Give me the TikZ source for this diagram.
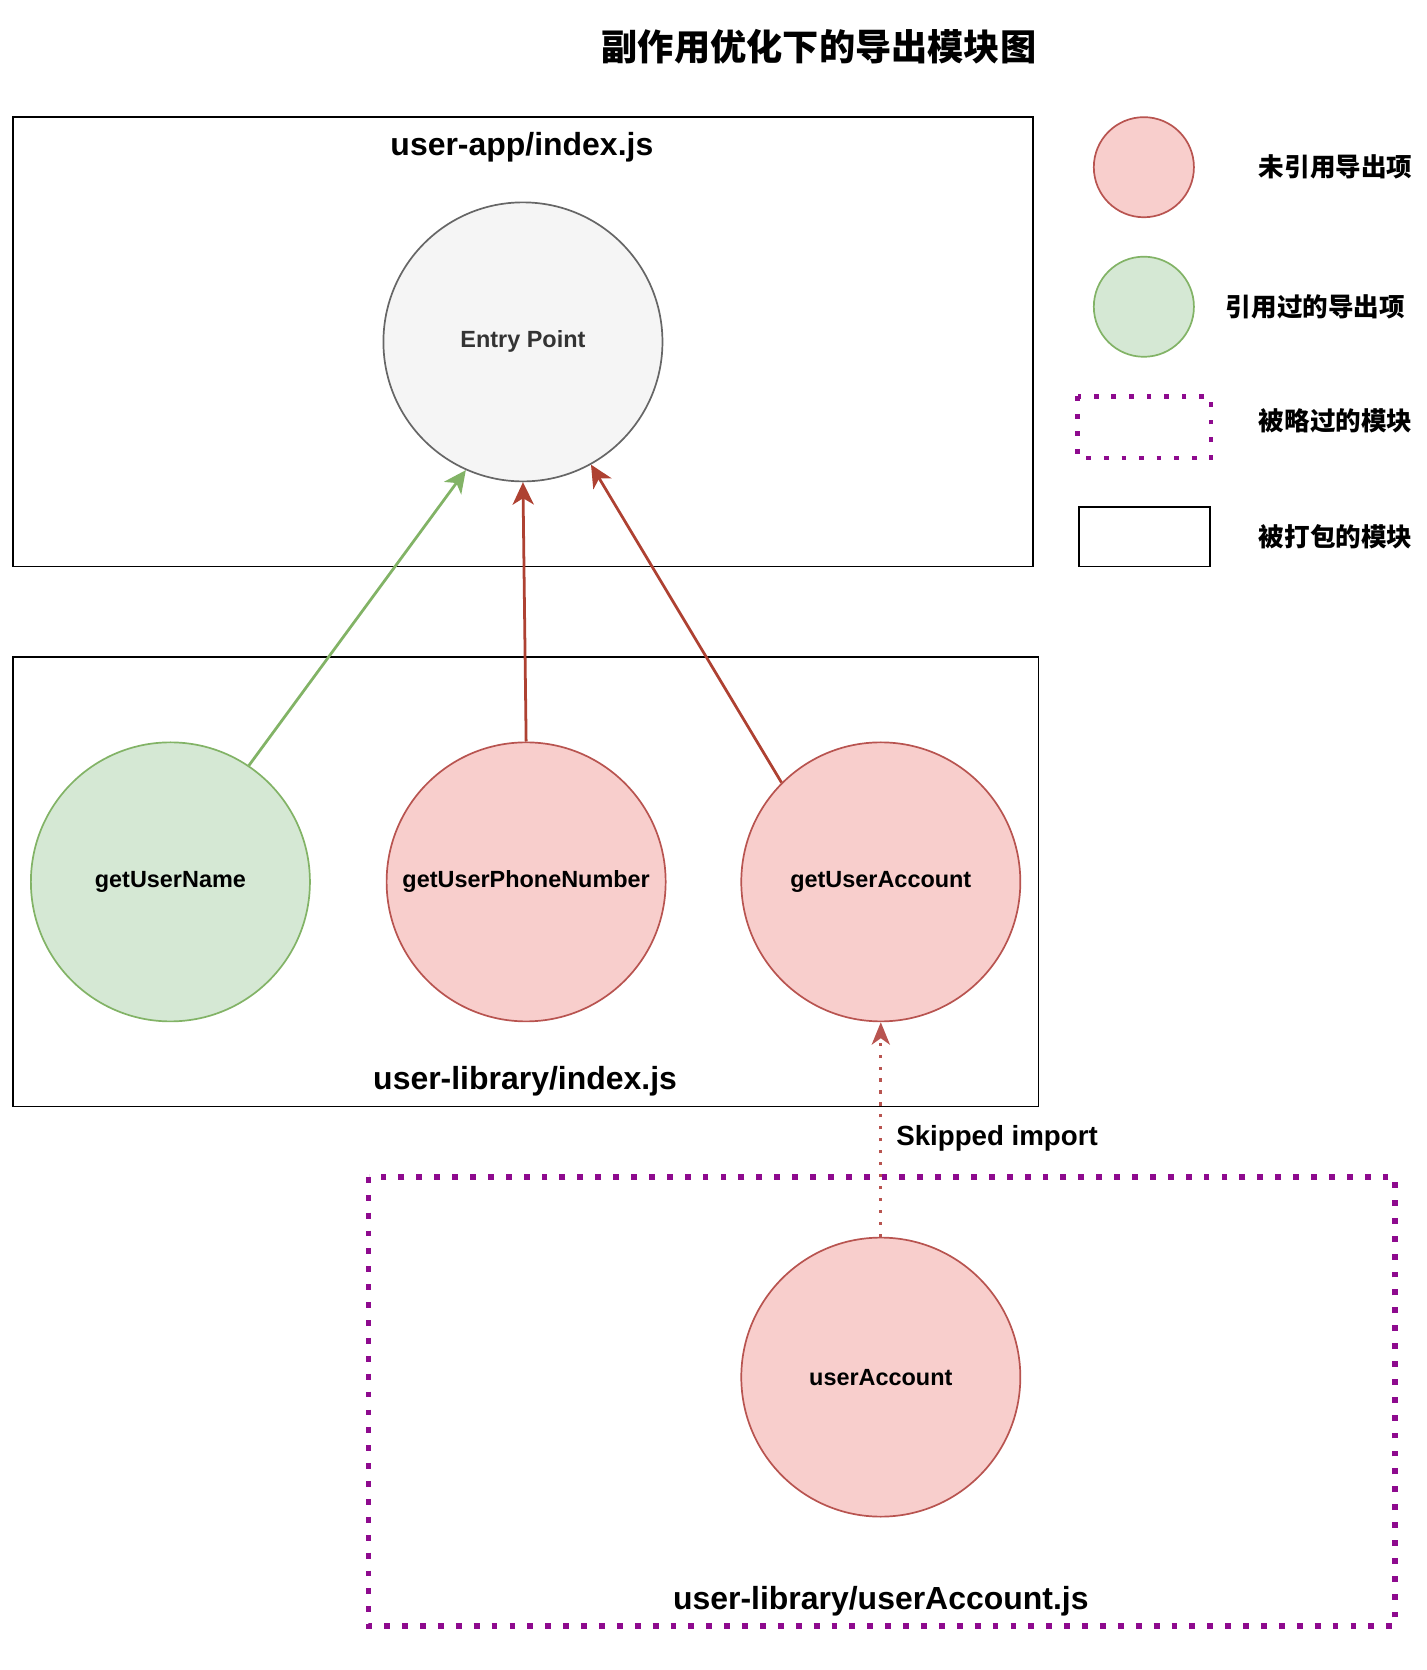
\documentclass[tikz,border=0pt]{standalone}
\usepackage{fontspec}
\setmainfont{Liberation Sans}
\newfontfamily\cjk{Noto Sans CJK SC}
\usetikzlibrary{arrows.meta}

\definecolor{redFill}{HTML}{F8CECC}
\definecolor{redLine}{HTML}{B85450}
\definecolor{redEdge}{HTML}{AE4132}
\definecolor{greenFill}{HTML}{D5E8D4}
\definecolor{greenLine}{HTML}{82B366}
\definecolor{grayFill}{HTML}{F5F5F5}
\definecolor{grayLine}{HTML}{666666}
\definecolor{skipPurple}{HTML}{8E0A8E}

\begin{document}
\begin{tikzpicture}[
    x=1pt, y=-1pt,
    % 定义统一的样式
    export/.style={circle, minimum size=262pt, inner sep=0, line width=1.6pt,
        font=\bfseries\fontsize{22}{26}\selectfont},
    unused/.style={export, draw=redLine, fill=redFill},
    used/.style={export, draw=greenLine, fill=greenFill},
    entry/.style={export, draw=grayLine, fill=grayFill, text=black!80},
    bundled/.style={draw=black, line width=1.6pt},
    skipped/.style={draw=skipPurple, line width=5.5pt, dash pattern=on 5.5pt off 11.3pt},
    file_label/.style={font=\bfseries\fontsize{30}{34}\selectfont},
    legend_label/.style={font=\cjk\bfseries\fontsize{24}{28}\selectfont},
    import_edge/.style={line width=2.6pt, -{Stealth[length=21pt, width=20pt, inset=6pt]}}
]
    \useasboundingbox (0,0) rectangle (1339,1568);

    % --- 标题 ---
    \node[font=\cjk\bfseries\fontsize{34}{38}\selectfont] (title) at (769,44) {副作用优化下的导出模块图};

    % --- 模块边框 ---
    \draw[bundled] (12,110) rectangle (970,532);
    \draw[bundled] (12,617) rectangle (975,1039);
    \draw[skipped] (346,1105) rectangle (1310,1527);

    \node[file_label] (appFile) at (490,138) {user-app/index.js};
    \node[file_label] (libFile) at (493,1015) {user-library/index.js};
    \node[file_label] (accFile) at (827,1503) {user-library/userAccount.js};

    % --- 导出项 ---
    \node[entry] (entryPoint) at (491,321) {Entry Point};
    \node[used] (getUserName) at (160,828) {getUserName};
    \node[unused] (getUserPhone) at (494,828) {getUserPhoneNumber};
    \node[unused] (getUserAccount) at (827,828) {getUserAccount};
    \node[unused] (userAccount) at (827,1293) {userAccount};

    % --- 引用关系 ---
    \draw[import_edge, greenLine] (getUserName.56) -- (entryPoint.-114);
    \draw[import_edge, redEdge] (getUserPhone.north) -- (entryPoint.south);
    \draw[import_edge, redEdge] (getUserAccount.135) -- (entryPoint.-61);
    \draw[redLine, line width=3pt, dash pattern=on 3pt off 8.2pt,
        -{Stealth[length=21pt, width=17pt, inset=6pt]}]
        (userAccount.north) -- (getUserAccount.south);
    \node[anchor=west, font=\bfseries\fontsize{26}{30}\selectfont] (skipLabel) at (838,1069) {Skipped import};

    % --- 图例 ---
    \node[circle, minimum size=94pt, draw=redLine, fill=redFill, line width=1.6pt] (legUnused) at (1074,157) {};
    \node[circle, minimum size=94pt, draw=greenLine, fill=greenFill, line width=1.6pt] (legUsed) at (1074,288) {};
    \draw[skipped, line width=4.5pt, dash pattern=on 4.5pt off 12pt] (1012,372) rectangle (1137,430);
    \draw[bundled] (1013,476) rectangle (1136,532);

    \node[legend_label] (txtUnused) at (1254,157) {未引用导出项};
    \node[legend_label] (txtUsed) at (1235,288) {引用过的导出项};
    \node[legend_label] (txtSkipped) at (1254,395) {被略过的模块};
    \node[legend_label] (txtBundled) at (1254,504) {被打包的模块};

\end{tikzpicture}
\end{document}
